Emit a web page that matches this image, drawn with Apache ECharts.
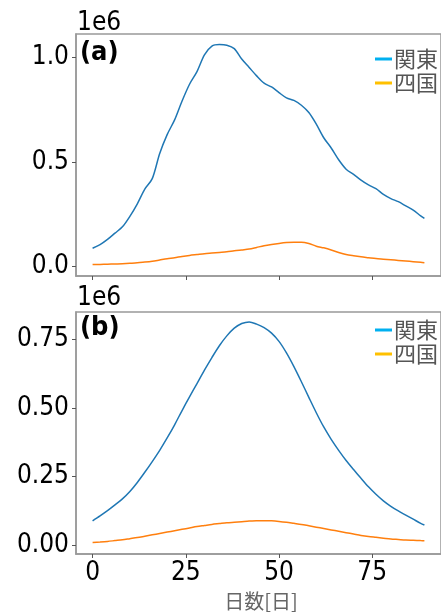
<!DOCTYPE html>
<html>
<head>
<meta charset="utf-8">
<script src="https://cdn.jsdelivr.net/npm/echarts@6/dist/echarts.min.js"></script>
<style>
  html, body { margin: 0; padding: 0; background: #fff; }
  #main { width: 441px; height: 612px; }
</style>
</head>
<body>
<div id="main"></div>
<script>
// values are in units of 1e6 (as printed by the axis offset text)
var days = [0,2,4,6,8,10,12,14,16,18,20,22,24,26,28,30,32,34,36,38,40,42,44,
            46,48,50,52,54,56,58,60,62,64,66,68,70,72,74,76,78,80,82,84,86,88,89];

// (a) observed
var kantoA = [0.088,0.105,0.13,0.16,0.19,0.24,0.30,0.37,0.42,0.54,0.63,0.70,0.79,
              0.87,0.93,1.01,1.052,1.059,1.056,1.04,0.99,0.95,0.91,0.875,0.857,0.83,
              0.805,0.793,0.77,0.735,0.68,0.615,0.566,0.51,0.465,0.44,0.413,0.39,
              0.372,0.345,0.325,0.31,0.29,0.27,0.242,0.23];
var shikokuA = [0.010,0.011,0.012,0.013,0.014,0.016,0.019,0.022,0.026,0.032,0.038,
                0.043,0.049,0.054,0.058,0.062,0.065,0.068,0.071,0.076,0.080,0.084,
                0.092,0.100,0.106,0.111,0.115,0.117,0.117,0.111,0.098,0.090,0.080,
                0.068,0.058,0.052,0.047,0.043,0.039,0.036,0.033,0.030,0.027,0.024,
                0.021,0.019];

// (b) model
var kantoB = [0.088,0.106,0.125,0.146,0.168,0.195,0.228,0.265,0.304,0.345,0.39,0.438,
              0.49,0.54,0.588,0.637,0.683,0.726,0.762,0.79,0.807,0.813,0.805,0.792,
              0.772,0.742,0.70,0.65,0.595,0.538,0.482,0.43,0.385,0.345,0.308,0.275,
              0.243,0.212,0.185,0.161,0.141,0.124,0.109,0.094,0.079,0.073];
var shikokuB = [0.0095,0.011,0.013,0.016,0.019,0.023,0.027,0.032,0.037,0.042,0.047,
                0.052,0.057,0.062,0.067,0.071,0.075,0.078,0.081,0.083,0.085,0.087,
                0.088,0.0886,0.088,0.086,0.083,0.079,0.075,0.070,0.065,0.060,0.055,
                0.050,0.045,0.040,0.035,0.031,0.028,0.025,0.022,0.020,0.018,0.017,
                0.016,0.0157];

var xTicks = [0, 25, 50, 75];
var yTicksA = [0, 0.5, 1.0];
var yTicksB = [0, 0.25, 0.5, 0.75];

function pairs(xs, ys) {
  var out = [];
  for (var i = 0; i < xs.length; i++) out.push([xs[i], ys[i]]);
  return out;
}

var FONT = '"DejaVu Sans Condensed", "DejaVu Sans"';
var CJK = 'Noto Sans CJK JP';
var FRAME = '#999';

function xAxis(gi, showLabel) {
  return {
    type: 'value', gridIndex: gi, min: -4.45, max: 93.45,
    axisLine: { show: true, onZero: false, lineStyle: { color: FRAME, width: 1.5 } },
    splitLine: { show: false },
    axisTick: { show: true, inside: false, customValues: xTicks, length: 4, lineStyle: { color: '#555' } },
    axisLabel: { show: showLabel, customValues: xTicks, margin: 6,
                 fontFamily: FONT, fontSize: 26, color: '#000' }
  };
}
function yAxis(gi, lo, hi, ticks, dec) {
  return {
    type: 'value', gridIndex: gi, min: lo, max: hi,
    axisLine: { show: true, onZero: false, lineStyle: { color: FRAME, width: 1.5 } },
    splitLine: { show: false },
    axisTick: { show: true, inside: false, customValues: ticks, length: 4, lineStyle: { color: '#555' } },
    axisLabel: { customValues: ticks, margin: 7, fontFamily: FONT, fontSize: 26, color: '#000',
                 formatter: function (v) { return v.toFixed(dec); } }
  };
}
function line(name, gi, ys, color) {
  return {
    name: name, type: 'line', xAxisIndex: gi, yAxisIndex: gi,
    data: pairs(days, ys), showSymbol: false, smooth: 0.3,
    lineStyle: { color: color, width: 1.5 }, itemStyle: { color: color },
    animation: false
  };
}
function legend(top) {
  return {
    orient: 'vertical', left: 370, top: top, itemGap: 2,
    icon: 'rect', itemWidth: 17, itemHeight: 3,
    textStyle: { fontFamily: CJK, fontSize: 22, color: '#555', padding: [0, 0, 0, -3] },
    data: [
      { name: '関東', itemStyle: { color: '#00b0f0' } },
      { name: '四国', itemStyle: { color: '#ffc000' } }
    ]
  };
}

var chart = echarts.init(document.getElementById('main'), null, { renderer: 'canvas' });
chart.setOption({
  animation: false,
  grid: [
    { left: 76, top: 34, width: 372, height: 242, show: true, borderColor: FRAME, borderWidth: 1.5 },
    { left: 76, top: 312, width: 372, height: 242, show: true, borderColor: FRAME, borderWidth: 1.5 }
  ],
  xAxis: [xAxis(0, false), xAxis(1, true)],
  yAxis: [yAxis(0, -0.0443, 1.1096, yTicksA, 1), yAxis(1, -0.0328, 0.849, yTicksB, 2)],
  legend: [legend(43), legend(314)],
  series: [
    line('関東', 0, kantoA, '#1f77b4'),
    line('四国', 0, shikokuA, '#ff7f0e'),
    line('関東', 1, kantoB, '#1f77b4'),
    line('四国', 1, shikokuB, '#ff7f0e')
  ],
  graphic: [
    { type: 'text', left: 77, top: 10, style: { text: '1e6', font: '26px "DejaVu Sans Condensed"', fill: '#000' } },
    { type: 'text', left: 77, top: 285, style: { text: '1e6', font: '26px "DejaVu Sans Condensed"', fill: '#000' } },
    { type: 'text', left: 80, top: 39, style: { text: '(a)', font: 'bold 27px "DejaVu Sans Condensed"', fill: '#000' } },
    { type: 'text', left: 80, top: 314, style: { text: '(b)', font: 'bold 27px "DejaVu Sans Condensed"', fill: '#000' } },
    { type: 'text', x: 261, y: 601, style: { text: '日数[日]', font: '20px "Noto Sans CJK JP"', fill: '#666',
      align: 'center', verticalAlign: 'middle' } }
  ]
});
</script>
</body>
</html>
